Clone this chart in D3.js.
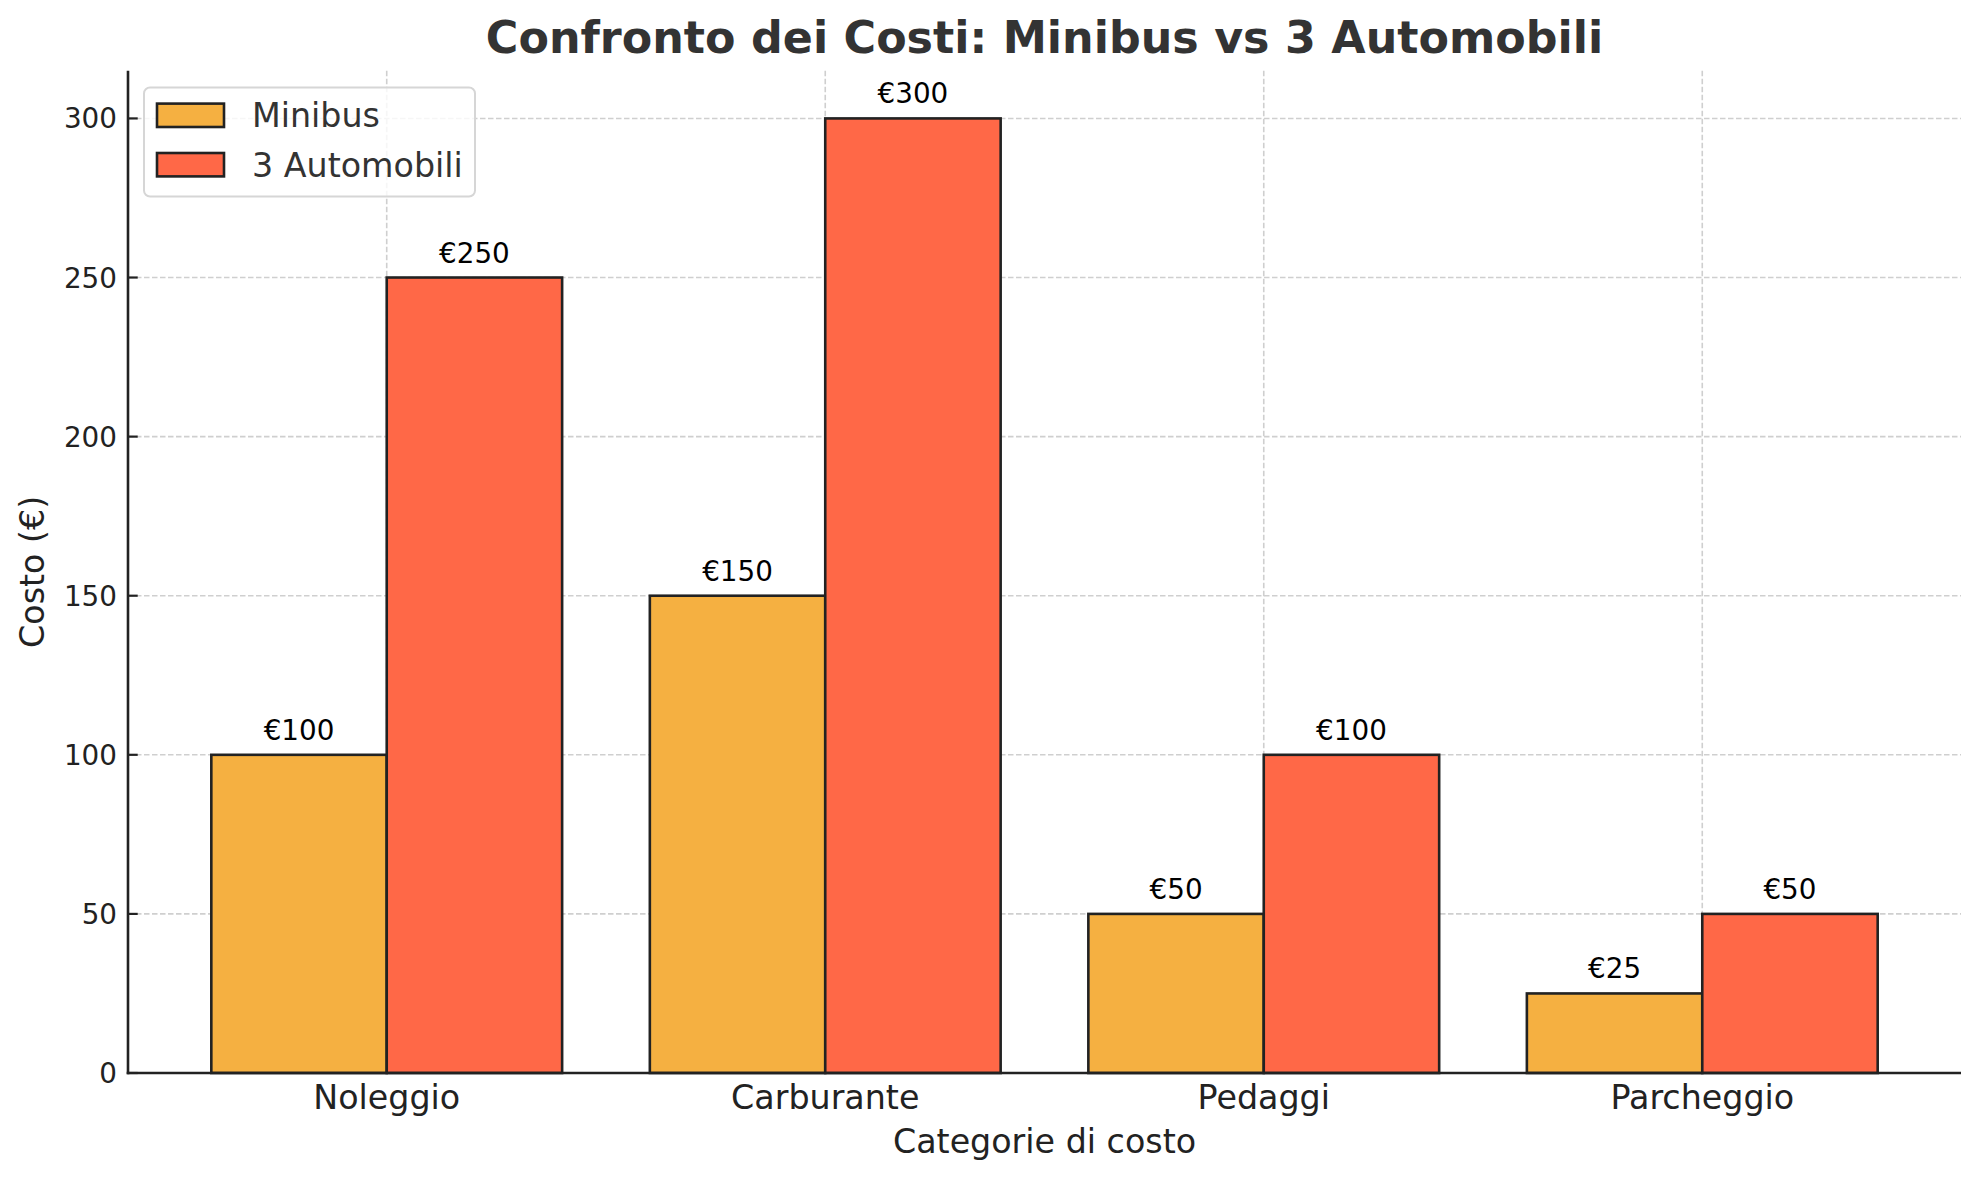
<!DOCTYPE html>
<html>
<head>
<meta charset="utf-8">
<script src="https://cdn.jsdelivr.net/npm/d3@7"></script>
<style>
  html, body { margin: 0; padding: 0; background: #fff; }
  svg { display: block; font-family: "DejaVu Sans", sans-serif; }
</style>
</head>
<body>
<svg id="chart" width="1980" height="1180"></svg>
<script>
const categories = ["Noleggio", "Carburante", "Pedaggi", "Parcheggio"];
const minibus = [100, 150, 50, 25];
const automobili = [250, 300, 100, 50];
const seriesNames = ["Minibus", "3 Automobili"];
const seriesColors = ["#F5B041", "#FF6847"];
const yTicks = [0, 50, 100, 150, 200, 250, 300];
const titleText = "Confronto dei Costi: Minibus vs 3 Automobili";
const xLabel = "Categorie di costo";
const yLabel = "Costo (€)";

const svg = d3.select("#chart");
const L = 128, R = 1961, T = 70.7, B = 1073;
const barW = 0.4;

const x = d3.scaleLinear().domain([-0.59, 3.59]).range([L, R]);
const y = d3.scaleLinear().domain([0, 315]).range([B, T]);

// grid
const grid = svg.append("g").attr("stroke", "#cfcfcf").attr("stroke-width", 1.6)
  .attr("stroke-dasharray", "5.5,2.5").attr("fill", "none");
grid.selectAll("line.h").data(yTicks).join("line")
  .attr("x1", L).attr("x2", R).attr("y1", d => y(d)).attr("y2", d => y(d));
grid.selectAll("line.v").data(categories).join("line")
  .attr("x1", (d, i) => x(i)).attr("x2", (d, i) => x(i)).attr("y1", T).attr("y2", B);

// bars
const series = [minibus, automobili];
series.forEach((vals, s) => {
  const g = svg.append("g");
  g.selectAll("rect").data(vals).join("rect")
    .attr("x", (d, i) => x(i + (s === 0 ? -barW : 0)))
    .attr("width", x(barW) - x(0))
    .attr("y", d => y(d))
    .attr("height", d => y(0) - y(d))
    .attr("fill", seriesColors[s])
    .attr("stroke", "#222")
    .attr("stroke-width", 2.6);
  g.selectAll("text").data(vals).join("text")
    .attr("x", (d, i) => x(i + (s === 0 ? -barW / 2 : barW / 2)))
    .attr("y", d => y(d) - 15)
    .attr("text-anchor", "middle")
    .attr("font-size", 27.8)
    .attr("fill", "#000")
    .text(d => "€" + d);
});

// spines
svg.append("line").attr("x1", L).attr("x2", L).attr("y1", T).attr("y2", B + 1.3)
  .attr("stroke", "#222").attr("stroke-width", 2.6);
svg.append("line").attr("x1", L - 1.3).attr("x2", R).attr("y1", B).attr("y2", B)
  .attr("stroke", "#222").attr("stroke-width", 2.6);

// y ticks (inward) and labels
const yt = svg.append("g");
yt.selectAll("line").data(yTicks).join("line")
  .attr("x1", L).attr("x2", L + 9.7).attr("y1", d => y(d)).attr("y2", d => y(d))
  .attr("stroke", "#222").attr("stroke-width", 2.2);
yt.selectAll("text").data(yTicks).join("text")
  .attr("x", L - 11).attr("y", d => y(d)).attr("dy", "0.36em")
  .attr("text-anchor", "end").attr("font-size", 27.8).attr("fill", "#222")
  .text(d => d);

// x tick labels
svg.append("g").selectAll("text").data(categories).join("text")
  .attr("x", (d, i) => x(i)).attr("y", 1109)
  .attr("text-anchor", "middle").attr("font-size", 33.3).attr("fill", "#222")
  .text(d => d);

// axis labels
svg.append("text").attr("x", (L + R) / 2).attr("y", 1153)
  .attr("text-anchor", "middle").attr("font-size", 33.3).attr("fill", "#222")
  .text(xLabel);
svg.append("text").attr("transform", `translate(44,${(T + B) / 2}) rotate(-90)`)
  .attr("text-anchor", "middle").attr("font-size", 33.3).attr("fill", "#222")
  .text(yLabel);

// title
svg.append("text").attr("x", (L + R) / 2).attr("y", 53)
  .attr("text-anchor", "middle").attr("font-size", 44.4).attr("font-weight", "bold")
  .attr("fill", "#333").text(titleText);

// legend
const lg = svg.append("g");
lg.append("rect").attr("x", 144).attr("y", 87.5).attr("width", 331).attr("height", 109)
  .attr("rx", 6).attr("fill", "#fff").attr("fill-opacity", 0.8)
  .attr("stroke", "#d6d6d6").attr("stroke-width", 2);
const rowsY = [115.3, 164.7];
lg.selectAll("rect.h").data(seriesNames).join("rect")
  .attr("x", 157).attr("y", (d, i) => rowsY[i] - 11.7)
  .attr("width", 67).attr("height", 23.4)
  .attr("fill", (d, i) => seriesColors[i]).attr("stroke", "#222").attr("stroke-width", 2.6);
lg.selectAll("text").data(seriesNames).join("text")
  .attr("x", 252).attr("y", (d, i) => rowsY[i]).attr("dy", "0.36em")
  .attr("font-size", 33.3).attr("fill", "#333").text(d => d);
</script>
</body>
</html>
